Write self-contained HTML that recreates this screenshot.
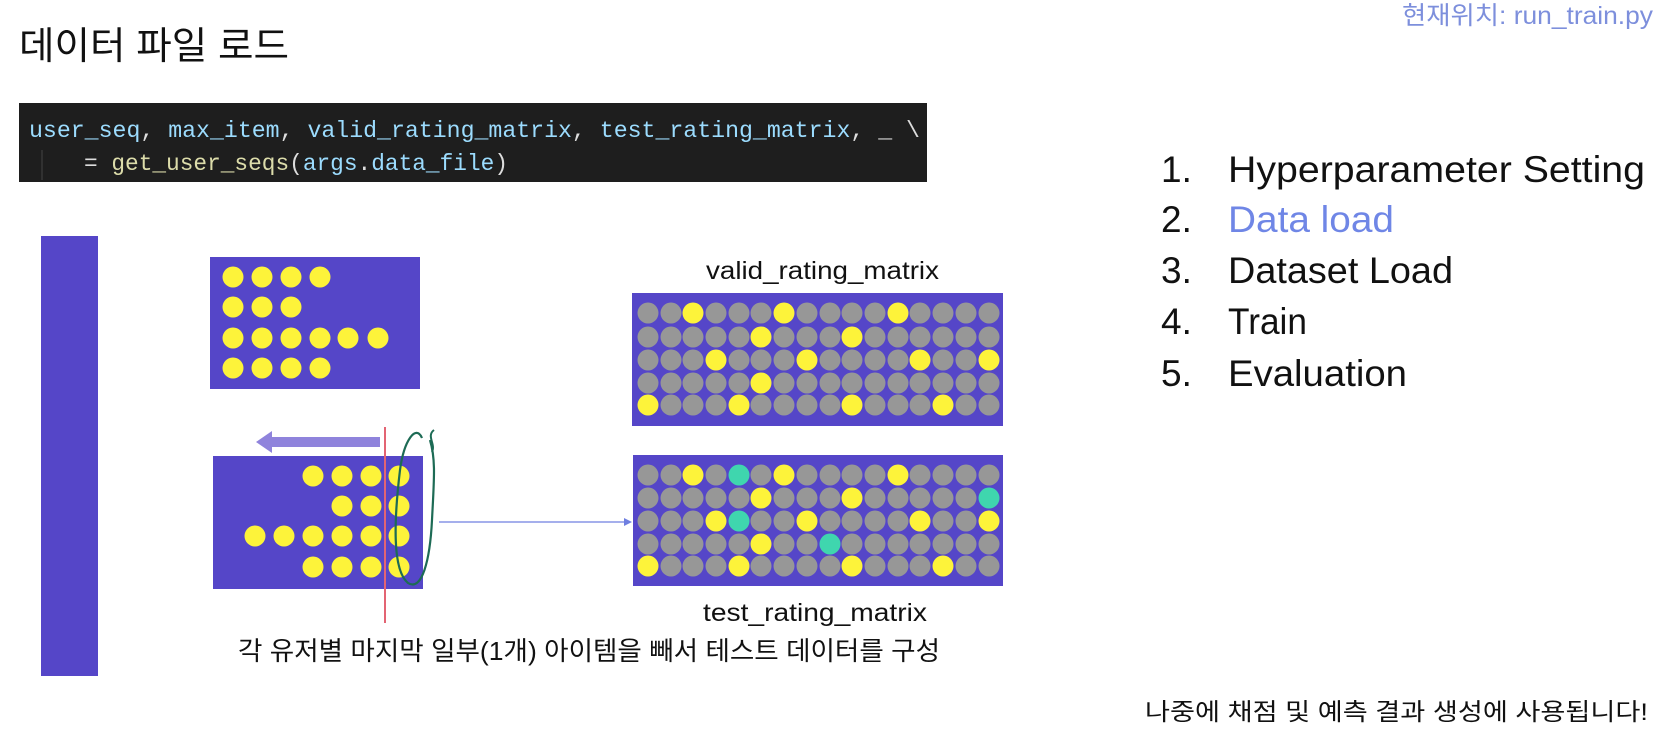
<!DOCTYPE html>
<html><head><meta charset="utf-8"><style>
html,body{margin:0;padding:0;background:#fff;}
svg{display:block;}
text{font-family:"Liberation Sans","Noto Sans CJK KR",sans-serif;}
.mono{font-family:"Liberation Mono","DejaVu Sans Mono",monospace;}
</style></head><body>
<svg width="1678" height="747" viewBox="0 0 1678 747" xmlns="http://www.w3.org/2000/svg">
<rect width="1678" height="747" fill="#fff"/>
<text x="19" y="59" font-size="38" fill="#111" textLength="270" lengthAdjust="spacingAndGlyphs">데이터 파일 로드</text>
<text x="1402" y="24" font-size="25" fill="#7d8fdc" textLength="251" lengthAdjust="spacingAndGlyphs">현재위치: run_train.py</text>
<rect x="19" y="103" width="908" height="79" fill="#1e1e1e"/>
<text class="mono" x="29" y="137" font-size="23" fill="#9cdcfe" textLength="891" lengthAdjust="spacingAndGlyphs">user_seq<tspan fill="#ddd">, </tspan>max_item<tspan fill="#ddd">, </tspan>valid_rating_matrix<tspan fill="#ddd">, </tspan>test_rating_matrix<tspan fill="#ddd">, _ \</tspan></text>
<text class="mono" x="84" y="170" font-size="23" fill="#ddd" textLength="424" lengthAdjust="spacingAndGlyphs">= <tspan fill="#dcdcaa">get_user_seqs</tspan>(<tspan fill="#9cdcfe">args</tspan>.<tspan fill="#9cdcfe">data_file</tspan>)</text>
<line x1="42" y1="150" x2="42" y2="180" stroke="#444" stroke-width="1"/>
<rect x="41" y="236" width="57" height="440" fill="#5546c8"/>
<rect x="210" y="257" width="210" height="132" fill="#5546c8"/>
<g fill="#fdf33a">
<circle cx="233" cy="277" r="10.5"/><circle cx="262" cy="277" r="10.5"/><circle cx="291" cy="277" r="10.5"/><circle cx="320" cy="277" r="10.5"/>
<circle cx="233" cy="307" r="10.5"/><circle cx="262" cy="307" r="10.5"/><circle cx="291" cy="307" r="10.5"/>
<circle cx="233" cy="338" r="10.5"/><circle cx="262" cy="338" r="10.5"/><circle cx="291" cy="338" r="10.5"/><circle cx="320" cy="338" r="10.5"/><circle cx="348" cy="338" r="10.5"/><circle cx="378" cy="338" r="10.5"/>
<circle cx="233" cy="368" r="10.5"/><circle cx="262" cy="368" r="10.5"/><circle cx="291" cy="368" r="10.5"/><circle cx="320" cy="368" r="10.5"/>
</g>
<rect x="213" y="456" width="210" height="133" fill="#5546c8"/>
<g fill="#fdf33a">
<circle cx="313" cy="476" r="10.5"/><circle cx="342" cy="476" r="10.5"/><circle cx="371" cy="476" r="10.5"/><circle cx="399" cy="476" r="10.5"/>
<circle cx="342" cy="506" r="10.5"/><circle cx="371" cy="506" r="10.5"/><circle cx="399" cy="506" r="10.5"/>
<circle cx="255" cy="536" r="10.5"/><circle cx="284" cy="536" r="10.5"/><circle cx="313" cy="536" r="10.5"/><circle cx="342" cy="536" r="10.5"/><circle cx="371" cy="536" r="10.5"/><circle cx="399" cy="536" r="10.5"/>
<circle cx="313" cy="567" r="10.5"/><circle cx="342" cy="567" r="10.5"/><circle cx="371" cy="567" r="10.5"/><circle cx="399" cy="567" r="10.5"/>
</g>
<rect x="268" y="437" width="112" height="10" fill="#8f83dc"/>
<polygon points="256,442 272,431 272,453" fill="#8f83dc"/>
<line x1="385" y1="427" x2="385" y2="623" stroke="#e36473" stroke-width="2"/>
<path d="M422,438 C416,424 404,440 400,470 C394,520 392,570 408,583 C422,592 430,560 432,520 C434,480 436,460 430,440" fill="none" stroke="#1d6b55" stroke-width="2.2"/>
<path d="M434,430 C426,436 436,444 432,452" fill="none" stroke="#1d6b55" stroke-width="2"/>
<line x1="439" y1="522" x2="626" y2="522" stroke="#6f7fe0" stroke-width="1.3"/>
<polygon points="632,522 624,518 624,526" fill="#6f7fe0"/>
<text x="706" y="279" font-size="25" fill="#111" textLength="233" lengthAdjust="spacingAndGlyphs">valid_rating_matrix</text>
<text x="703" y="621" font-size="25" fill="#111" textLength="224" lengthAdjust="spacingAndGlyphs">test_rating_matrix</text>
<rect x="632" y="293" width="371" height="133" fill="#5546c8"/>
<rect x="633" y="455" width="370" height="131" fill="#5546c8"/>
<text x="238" y="660" font-size="26" fill="#111" textLength="702" lengthAdjust="spacingAndGlyphs">각 유저별 마지막 일부(1개) 아이템을 빼서 테스트 데이터를 구성</text>
<g font-size="37" fill="#111">
<text x="1161" y="182">1.</text><text x="1228" y="182" textLength="417" lengthAdjust="spacingAndGlyphs">Hyperparameter Setting</text>
<text x="1161" y="232">2.</text><text x="1228" y="232" fill="#6f86e6" textLength="166" lengthAdjust="spacingAndGlyphs">Data load</text>
<text x="1161" y="283">3.</text><text x="1228" y="283" textLength="225" lengthAdjust="spacingAndGlyphs">Dataset Load</text>
<text x="1161" y="334">4.</text><text x="1228" y="334" textLength="79" lengthAdjust="spacingAndGlyphs">Train</text>
<text x="1161" y="386">5.</text><text x="1228" y="386" textLength="179" lengthAdjust="spacingAndGlyphs">Evaluation</text>
</g>
<text x="1145" y="720" font-size="24" fill="#111" textLength="503" lengthAdjust="spacingAndGlyphs">나중에 채점 및 예측 결과 생성에 사용됩니다!</text>
<g>
<g fill="#979797">
<circle cx="648" cy="313" r="10.5"/><circle cx="671" cy="313" r="10.5"/><circle cx="716" cy="313" r="10.5"/><circle cx="739" cy="313" r="10.5"/><circle cx="761" cy="313" r="10.5"/><circle cx="807" cy="313" r="10.5"/><circle cx="830" cy="313" r="10.5"/><circle cx="852" cy="313" r="10.5"/><circle cx="875" cy="313" r="10.5"/><circle cx="920" cy="313" r="10.5"/><circle cx="943" cy="313" r="10.5"/><circle cx="966" cy="313" r="10.5"/><circle cx="989" cy="313" r="10.5"/>
<circle cx="648" cy="337" r="10.5"/><circle cx="671" cy="337" r="10.5"/><circle cx="693" cy="337" r="10.5"/><circle cx="716" cy="337" r="10.5"/><circle cx="739" cy="337" r="10.5"/><circle cx="784" cy="337" r="10.5"/><circle cx="807" cy="337" r="10.5"/><circle cx="830" cy="337" r="10.5"/><circle cx="875" cy="337" r="10.5"/><circle cx="898" cy="337" r="10.5"/><circle cx="920" cy="337" r="10.5"/><circle cx="943" cy="337" r="10.5"/><circle cx="966" cy="337" r="10.5"/><circle cx="989" cy="337" r="10.5"/>
<circle cx="648" cy="360" r="10.5"/><circle cx="671" cy="360" r="10.5"/><circle cx="693" cy="360" r="10.5"/><circle cx="739" cy="360" r="10.5"/><circle cx="761" cy="360" r="10.5"/><circle cx="784" cy="360" r="10.5"/><circle cx="830" cy="360" r="10.5"/><circle cx="852" cy="360" r="10.5"/><circle cx="875" cy="360" r="10.5"/><circle cx="898" cy="360" r="10.5"/><circle cx="943" cy="360" r="10.5"/><circle cx="966" cy="360" r="10.5"/>
<circle cx="648" cy="383" r="10.5"/><circle cx="671" cy="383" r="10.5"/><circle cx="693" cy="383" r="10.5"/><circle cx="716" cy="383" r="10.5"/><circle cx="739" cy="383" r="10.5"/><circle cx="784" cy="383" r="10.5"/><circle cx="807" cy="383" r="10.5"/><circle cx="830" cy="383" r="10.5"/><circle cx="852" cy="383" r="10.5"/><circle cx="875" cy="383" r="10.5"/><circle cx="898" cy="383" r="10.5"/><circle cx="920" cy="383" r="10.5"/><circle cx="943" cy="383" r="10.5"/><circle cx="966" cy="383" r="10.5"/><circle cx="989" cy="383" r="10.5"/>
<circle cx="671" cy="405" r="10.5"/><circle cx="693" cy="405" r="10.5"/><circle cx="716" cy="405" r="10.5"/><circle cx="761" cy="405" r="10.5"/><circle cx="784" cy="405" r="10.5"/><circle cx="807" cy="405" r="10.5"/><circle cx="830" cy="405" r="10.5"/><circle cx="875" cy="405" r="10.5"/><circle cx="898" cy="405" r="10.5"/><circle cx="920" cy="405" r="10.5"/><circle cx="966" cy="405" r="10.5"/><circle cx="989" cy="405" r="10.5"/>
</g>
<g fill="#fdf33a">
<circle cx="693" cy="313" r="10.5"/><circle cx="784" cy="313" r="10.5"/><circle cx="898" cy="313" r="10.5"/>
<circle cx="761" cy="337" r="10.5"/><circle cx="852" cy="337" r="10.5"/>
<circle cx="716" cy="360" r="10.5"/><circle cx="807" cy="360" r="10.5"/><circle cx="920" cy="360" r="10.5"/><circle cx="989" cy="360" r="10.5"/>
<circle cx="761" cy="383" r="10.5"/>
<circle cx="648" cy="405" r="10.5"/><circle cx="739" cy="405" r="10.5"/><circle cx="852" cy="405" r="10.5"/><circle cx="943" cy="405" r="10.5"/>
</g>
<g fill="#979797">
<circle cx="648" cy="475" r="10.5"/><circle cx="671" cy="475" r="10.5"/><circle cx="716" cy="475" r="10.5"/><circle cx="761" cy="475" r="10.5"/><circle cx="807" cy="475" r="10.5"/><circle cx="830" cy="475" r="10.5"/><circle cx="852" cy="475" r="10.5"/><circle cx="875" cy="475" r="10.5"/><circle cx="920" cy="475" r="10.5"/><circle cx="943" cy="475" r="10.5"/><circle cx="966" cy="475" r="10.5"/><circle cx="989" cy="475" r="10.5"/>
<circle cx="648" cy="498" r="10.5"/><circle cx="671" cy="498" r="10.5"/><circle cx="693" cy="498" r="10.5"/><circle cx="716" cy="498" r="10.5"/><circle cx="739" cy="498" r="10.5"/><circle cx="784" cy="498" r="10.5"/><circle cx="807" cy="498" r="10.5"/><circle cx="830" cy="498" r="10.5"/><circle cx="875" cy="498" r="10.5"/><circle cx="898" cy="498" r="10.5"/><circle cx="920" cy="498" r="10.5"/><circle cx="943" cy="498" r="10.5"/><circle cx="966" cy="498" r="10.5"/>
<circle cx="648" cy="521" r="10.5"/><circle cx="671" cy="521" r="10.5"/><circle cx="693" cy="521" r="10.5"/><circle cx="761" cy="521" r="10.5"/><circle cx="784" cy="521" r="10.5"/><circle cx="830" cy="521" r="10.5"/><circle cx="852" cy="521" r="10.5"/><circle cx="875" cy="521" r="10.5"/><circle cx="898" cy="521" r="10.5"/><circle cx="943" cy="521" r="10.5"/><circle cx="966" cy="521" r="10.5"/>
<circle cx="648" cy="544" r="10.5"/><circle cx="671" cy="544" r="10.5"/><circle cx="693" cy="544" r="10.5"/><circle cx="716" cy="544" r="10.5"/><circle cx="739" cy="544" r="10.5"/><circle cx="784" cy="544" r="10.5"/><circle cx="807" cy="544" r="10.5"/><circle cx="852" cy="544" r="10.5"/><circle cx="875" cy="544" r="10.5"/><circle cx="898" cy="544" r="10.5"/><circle cx="920" cy="544" r="10.5"/><circle cx="943" cy="544" r="10.5"/><circle cx="966" cy="544" r="10.5"/><circle cx="989" cy="544" r="10.5"/>
<circle cx="671" cy="566" r="10.5"/><circle cx="693" cy="566" r="10.5"/><circle cx="716" cy="566" r="10.5"/><circle cx="761" cy="566" r="10.5"/><circle cx="784" cy="566" r="10.5"/><circle cx="807" cy="566" r="10.5"/><circle cx="830" cy="566" r="10.5"/><circle cx="875" cy="566" r="10.5"/><circle cx="898" cy="566" r="10.5"/><circle cx="920" cy="566" r="10.5"/><circle cx="966" cy="566" r="10.5"/><circle cx="989" cy="566" r="10.5"/>
</g>
<g fill="#fdf33a">
<circle cx="693" cy="475" r="10.5"/><circle cx="784" cy="475" r="10.5"/><circle cx="898" cy="475" r="10.5"/>
<circle cx="761" cy="498" r="10.5"/><circle cx="852" cy="498" r="10.5"/>
<circle cx="716" cy="521" r="10.5"/><circle cx="807" cy="521" r="10.5"/><circle cx="920" cy="521" r="10.5"/><circle cx="989" cy="521" r="10.5"/>
<circle cx="761" cy="544" r="10.5"/>
<circle cx="648" cy="566" r="10.5"/><circle cx="739" cy="566" r="10.5"/><circle cx="852" cy="566" r="10.5"/><circle cx="943" cy="566" r="10.5"/>
</g>
<g fill="#3fd6ae">
<circle cx="739" cy="475" r="10.5"/><circle cx="989" cy="498" r="10.5"/><circle cx="739" cy="521" r="10.5"/><circle cx="830" cy="544" r="10.5"/>
</g>
</g>
</svg>
</body></html>
